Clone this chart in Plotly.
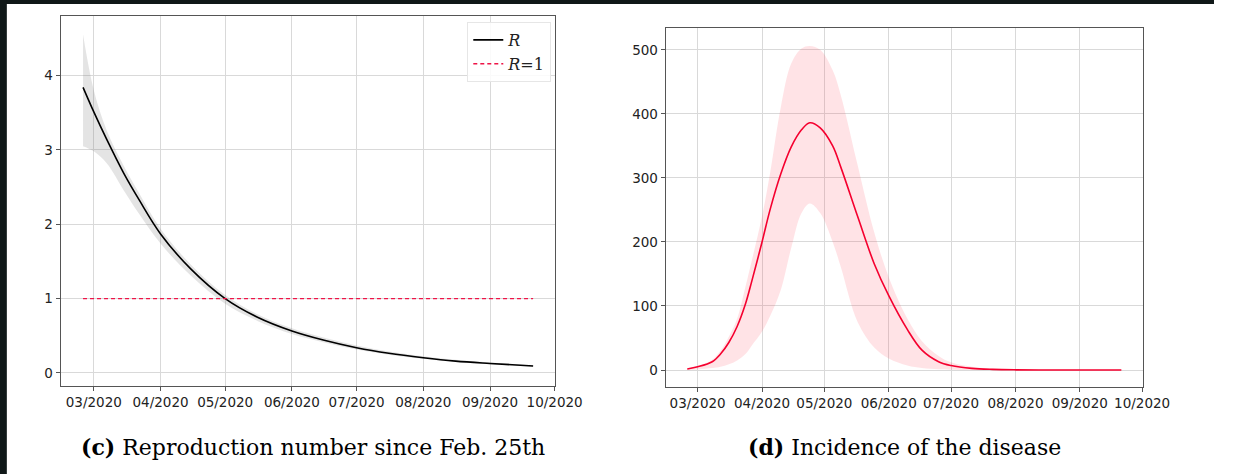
import plotly.graph_objects as go

# ---- data ----
r_dates = ['2020-02-25', '2020-03-01', '2020-03-07', '2020-03-15', '2020-03-22', '2020-04-01',
           '2020-04-15', '2020-05-01', '2020-05-16', '2020-06-01', '2020-06-16', '2020-07-01',
           '2020-07-16', '2020-08-01', '2020-08-16', '2020-09-01', '2020-09-21']
r_mean = [3.84, 3.51, 3.14, 2.68, 2.33, 1.87, 1.40, 1.00, 0.75, 0.565, 0.44, 0.34,
          0.265, 0.205, 0.16, 0.128, 0.093]
r_upper = [4.55, 3.80, 3.26, 2.78, 2.42, 1.94, 1.46, 1.05, 0.79, 0.60, 0.475, 0.37,
           0.29, 0.225, 0.178, 0.142, 0.103]
r_lower = [3.05, 2.98, 2.82, 2.45, 2.14, 1.74, 1.31, 0.93, 0.70, 0.525, 0.41, 0.315,
           0.245, 0.19, 0.148, 0.117, 0.085]
r_one = [1.0] * len(r_dates)

inc_dates = ['2020-02-25', '2020-03-01', '2020-03-08', '2020-03-12', '2020-03-16', '2020-03-20',
             '2020-03-24', '2020-03-27', '2020-04-01', '2020-04-05', '2020-04-10', '2020-04-15',
             '2020-04-20', '2020-04-24', '2020-04-29', '2020-05-05', '2020-05-09', '2020-05-17',
             '2020-05-25', '2020-06-01', '2020-06-10', '2020-06-17', '2020-06-25', '2020-07-01',
             '2020-07-11', '2020-07-21', '2020-08-01', '2020-08-16', '2020-09-01', '2020-09-21']
inc_mean = [1.6, 5, 13, 25, 43, 68, 103, 138, 200, 252, 306, 348, 375, 386, 378, 350, 316,
            240, 166, 116, 63, 31, 13, 7, 2.6, 1, 0.3, 0.1, 0, 0]
inc_upper = [2, 6, 16, 30, 52, 80, 130, 170, 240, 310, 410, 478, 502, 506, 500, 468, 428,
             320, 215, 145, 80, 45, 22, 12, 5, 2, 0.8, 0.3, 0.1, 0]
inc_lower = [0, 1, 3, 5, 9, 15, 25, 38, 60, 85, 125, 190, 245, 260, 245, 200, 160,
             75, 35, 18, 7, 3, 1.2, 0.6, 0.2, 0.1, 0, 0, 0, 0]

caption_c = "<b>(c)</b> Reproduction number since Feb. 25th"
caption_d = "<b>(d)</b> Incidence of the disease"

W, H = 1242, 474

fig = go.Figure()

# left panel: band, R, R=1
fig.add_trace(go.Scatter(x=r_dates, y=r_upper, mode='lines', line=dict(width=0, shape='spline'),
                         showlegend=False, hoverinfo='skip', xaxis='x', yaxis='y'))
fig.add_trace(go.Scatter(x=r_dates, y=r_lower, mode='lines', line=dict(width=0, shape='spline'),
                         fill='tonexty', fillcolor='rgba(120,120,120,0.2)',
                         showlegend=False, hoverinfo='skip', xaxis='x', yaxis='y'))
fig.add_trace(go.Scatter(x=r_dates, y=r_mean, mode='lines', name='<i>R</i>',
                         line=dict(color='black', width=1.6, shape='spline'), xaxis='x', yaxis='y'))
fig.add_trace(go.Scatter(x=r_dates, y=r_one, mode='lines', name='<i>R</i>=1',
                         line=dict(color='#ee1447', width=1.4, dash='4px,3px'), xaxis='x', yaxis='y'))

# right panel: band, incidence
fig.add_trace(go.Scatter(x=inc_dates, y=inc_upper, mode='lines', line=dict(width=0, shape='spline'),
                         showlegend=False, hoverinfo='skip', xaxis='x2', yaxis='y2'))
fig.add_trace(go.Scatter(x=inc_dates, y=inc_lower, mode='lines', line=dict(width=0, shape='spline'),
                         fill='tonexty', fillcolor='rgba(255,40,60,0.13)',
                         showlegend=False, hoverinfo='skip', xaxis='x2', yaxis='y2'))
fig.add_trace(go.Scatter(x=inc_dates, y=inc_mean, mode='lines', showlegend=False,
                         line=dict(color='#f5002f', width=1.6, shape='spline'), xaxis='x2', yaxis='y2'))

xr = ['2020-02-14 14:00', '2020-10-01 06:00']
tick_font = dict(family='DejaVu Sans', size=13.5, color='#222')
common_x = dict(type='date', range=xr, tickformat='%m/%Y', dtick='M1', tick0='2020-03-01',
                showgrid=True, gridcolor='#d9d9d9', gridwidth=1, showline=True, linecolor='#555',
                linewidth=1, mirror=True, ticks='outside', ticklen=4, tickcolor='#555',
                tickfont=tick_font, zeroline=False)
common_y = dict(showgrid=True, gridcolor='#d9d9d9', gridwidth=1, showline=True, linecolor='#555',
                linewidth=1, mirror=True, ticks='outside', ticklen=4, tickcolor='#555',
                tickfont=tick_font, zeroline=False)

fig.update_layout(
    width=W, height=H, margin=dict(l=0, r=0, t=0, b=0),
    paper_bgcolor='white', plot_bgcolor='white',
    xaxis=dict(domain=[62 / W, 568 / W], anchor='y', **common_x),
    yaxis=dict(domain=[1 - 386 / H, 1 - 16 / H], anchor='x', range=[-0.175, 4.8], dtick=1, **common_y),
    xaxis2=dict(domain=[681 / W, 1169 / W], anchor='y2', **common_x),
    yaxis2=dict(domain=[1 - 387 / H, 1 - 28 / H], anchor='x2', range=[-26.5, 534], dtick=100, **common_y),
    legend=dict(x=564 / W, y=1 - 22 / H, xanchor='right', yanchor='top', traceorder='normal',
                bgcolor='rgba(255,255,255,0.85)', bordercolor='#e6e6e6', borderwidth=1,
                font=dict(family='DejaVu Serif', size=16, color='#222'), tracegroupgap=2),
    annotations=[
        dict(text=caption_c, x=320 / W, y=1 - 447 / H, xref='paper', yref='paper',
             showarrow=False, xanchor='center', yanchor='middle',
             font=dict(family='DejaVu Serif', size=22, color='black')),
        dict(text=caption_d, x=925 / W, y=1 - 447 / H, xref='paper', yref='paper',
             showarrow=False, xanchor='center', yanchor='middle',
             font=dict(family='DejaVu Serif', size=22, color='black')),
    ],
    shapes=[
        dict(type='rect', xref='paper', yref='paper', x0=0, x1=1, y0=1 - 4 / H, y1=1,
             fillcolor='#101818', line=dict(width=0), layer='above'),
        dict(type='rect', xref='paper', yref='paper', x0=0, x1=7 / W, y0=0, y1=1,
             fillcolor='#101818', line=dict(width=0), layer='above'),
    ],
)

fig.write_html("out.html", config={'displayModeBar': False},
               post_script="document.body.style.margin='0';document.body.style.padding='0';")
